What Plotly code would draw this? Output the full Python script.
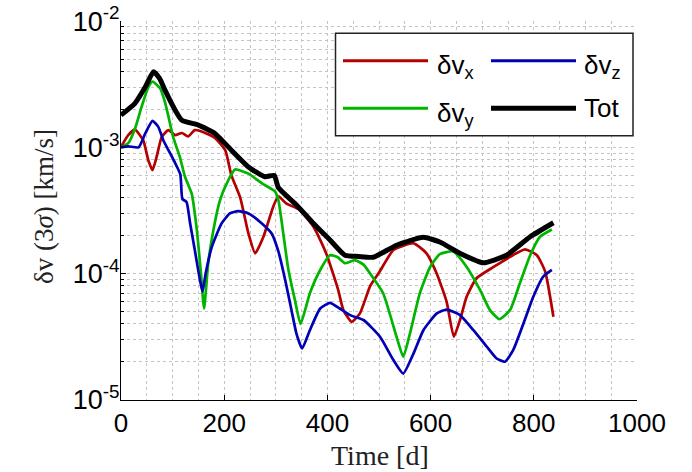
import plotly.graph_objects as go

# ---------------- data ----------------
t_x = [0, 14, 27, 43, 53, 61, 69, 79, 92, 105, 118, 130, 143, 160, 182, 202, 214, 231, 247, 260,
       276, 295, 305, 320, 347, 373, 386, 399, 411, 421, 431, 447, 463, 483, 502, 528, 567, 592,
       612, 631, 645, 657, 670, 689, 722, 754, 783, 806, 822, 838]
v_x = [1.01e-3, 1.25e-3, 1.38e-3, 1.14e-3, 7.9e-4, 6.6e-4, 8.4e-4, 1.21e-3, 1.37e-3, 1.25e-3,
       1.3e-3, 1.22e-3, 1.37e-3, 1.32e-3, 1.19e-3, 9.5e-4, 6.0e-4, 4.0e-4, 2.08e-4, 1.45e-4,
       1.96e-4, 3.39e-4, 4.1e-4, 3.6e-4, 3.19e-4, 2.35e-4, 1.85e-4, 1.40e-4, 1.0e-4, 7.4e-5,
       5.15e-5, 4.16e-5, 4.85e-5, 8.0e-5, 1.05e-4, 1.54e-4, 1.74e-4, 1.45e-4, 1.0e-4, 6.0e-5,
       3.17e-5, 4.3e-5, 6.6e-5, 9.2e-5, 1.13e-4, 1.36e-4, 1.56e-4, 1.40e-4, 1.04e-4, 4.56e-5]

t_y = [0, 14, 27, 40, 53, 61, 76, 85, 92, 101, 114, 124, 137, 147, 155, 161, 169, 179, 192, 208,
       221, 247, 273, 298, 305, 311, 324, 337, 348, 366, 386, 405, 420, 434, 453, 470, 483, 508,
       534, 547, 560, 579, 599, 618, 644, 670, 696, 715, 733, 754, 773, 793, 812, 835]
v_y = [1.0e-3, 1.08e-3, 1.4e-3, 2.1e-3, 3.0e-3, 3.31e-3, 2.93e-3, 2.3e-3, 1.75e-3, 1.21e-3,
       8.4e-4, 5.85e-4, 4.3e-4, 2.21e-4, 1.0e-4, 5.3e-5, 1.21e-4, 2.21e-4, 3.83e-4, 5.5e-4,
       6.68e-4, 6.2e-4, 5.19e-4, 4.5e-4, 3.83e-4, 2.65e-4, 1.1e-4, 6.2e-5, 4.0e-5, 7.0e-5,
       1.07e-4, 1.40e-4, 1.35e-4, 1.21e-4, 1.28e-4, 1.18e-4, 1.0e-4, 7.0e-5, 3.17e-5, 2.2e-5,
       3.36e-5, 6.98e-5, 1.13e-4, 1.43e-4, 1.5e-4, 1.13e-4, 7.4e-5, 5.15e-5, 4.37e-5, 5.15e-5,
       8.4e-5, 1.40e-4, 1.96e-4, 2.24e-4]

t_z = [0, 14, 34, 47, 61, 72, 82, 92, 105, 115, 119, 127, 134, 143, 153, 158, 164, 176, 195, 211,
       227, 247, 273, 292, 305, 318, 331, 340, 351, 366, 386, 405, 424, 444, 470, 502, 528, 547,
       567, 586, 612, 631, 657, 683, 709, 728, 744, 760, 780, 799, 818, 835]
v_z = [1.0e-3, 1.02e-3, 1.0e-3, 1.29e-3, 1.62e-3, 1.46e-3, 1.14e-3, 9.5e-4, 7.5e-4, 6.1e-4,
       3.9e-4, 3.7e-4, 2.5e-4, 1.54e-4, 8.9e-5, 7.2e-5, 1.0e-4, 1.63e-4, 2.5e-4, 3.0e-4,
       3.13e-4, 3.0e-4, 2.5e-4, 2.08e-4, 1.5e-4, 9.0e-5, 5.0e-5, 3.36e-5, 2.56e-5, 3.57e-5,
       5.3e-5, 5.88e-5, 5.3e-5, 4.7e-5, 4.3e-5, 3.17e-5, 2.07e-5, 1.62e-5, 2.34e-5, 3.57e-5,
       4.85e-5, 5.2e-5, 4.7e-5, 3.57e-5, 2.64e-5, 2.13e-5, 2.01e-5, 2.48e-5, 4.04e-5, 6.56e-5,
       9.46e-5, 1.07e-4]

t_tot = [0, 27, 47, 63, 75, 85, 105, 118, 150, 182, 214, 247, 279, 297, 305, 340, 373, 405, 434,
         460, 489, 534, 586, 618, 657, 702, 747, 793, 838]
v_tot = [1.80e-3, 2.23e-3, 3.0e-3, 3.97e-3, 3.5e-3, 2.85e-3, 1.97e-3, 1.64e-3, 1.50e-3, 1.29e-3,
         9.5e-4, 7.0e-4, 5.85e-4, 6.0e-4, 4.8e-4, 3.5e-4, 2.5e-4, 1.85e-4, 1.40e-4, 1.37e-4,
         1.35e-4, 1.68e-4, 1.94e-4, 1.78e-4, 1.45e-4, 1.22e-4, 1.40e-4, 1.96e-4, 2.53e-4]

labels = ["δv<sub>x</sub>", "δv<sub>y</sub>", "δv<sub>z</sub>", "Tot"]
colors = ["#B40000", "#00B400", "#0000B4", "#000000"]
widths = [2.7, 2.7, 2.7, 5]
x_ticks = [0, 200, 400, 600, 800, 1000]
y_ticks = [1e-5, 1e-4, 1e-3, 1e-2]
y_ticktext = ["10<sup>-5</sup>", "10<sup>-4</sup>", "10<sup>-3</sup>", "10<sup>-2</sup>"]
x_title = "Time [d]"
y_title = "δv (3<i>σ</i>) [km/s]"

# ---------------- figure ----------------
fig = go.Figure()
for t, v, name, c, w in zip([t_x, t_y, t_z, t_tot], [v_x, v_y, v_z, v_tot], labels, colors, widths):
    fig.add_trace(go.Scatter(x=t, y=v, mode="lines", name=name, line_shape="spline",
                             line=dict(color=c, width=w, smoothing=0.5), showlegend=False))

L, R, T, B = 121, 55, 21, 72
W, H = 692, 472
pw, ph = W - L - R, H - T - B

def px(x):
    return (x - L) / pw

def py(y):
    return (H - B - y) / ph

grid = dict(gridcolor="#c4c4c4", griddash="3px,3px", gridwidth=1)

fig.update_xaxes(range=[0, 1000], tickvals=x_ticks, showline=True, linecolor="black", linewidth=1,
                 ticks="inside", ticklen=5, tickcolor="black", zeroline=False, showgrid=True,
                 automargin=False,
                 minor=dict(dtick=50, showgrid=True, ticks="", **grid),
                 tickfont=dict(family="Liberation Sans", size=26, color="black"),
                 **grid)
fig.update_yaxes(type="log", range=[-5, -1.9995], tickvals=y_ticks, ticktext=y_ticktext,
                 showline=True, linecolor="black", linewidth=1, ticks="inside", ticklen=5,
                 tickcolor="black", zeroline=False, showgrid=True, automargin=False,
                 ticklabelstandoff=-5,
                 minor=dict(dtick="D1", showgrid=True, ticks="inside", ticklen=3, tickcolor="black", **grid),
                 tickfont=dict(family="Liberation Sans", size=27, color="black"),
                 **grid)

# legend drawn by hand (two columns, long line samples)
shapes = [dict(type="rect", xref="paper", yref="paper", x0=px(335.5), x1=px(633), y0=py(135.7),
               y1=py(33.3), line=dict(color="#222", width=1.5), fillcolor="white", layer="above")]
annots = []
leg_pos = [(343, 428, 60.7, 435), (343, 428, 108.3, 435), (491, 576, 60.7, 582), (491, 576, 108.3, 582)]
for (x0, x1, yy, xt), name, c, w in zip(leg_pos, labels, colors, widths):
    shapes.append(dict(type="line", xref="paper", yref="paper", x0=px(x0), x1=px(x1), y0=py(yy),
                       y1=py(yy), line=dict(color=c, width=3 if w < 4 else 5), layer="above"))
    annots.append(dict(xref="paper", yref="paper", x=px(xt), y=py(yy + (6 if "sub" in name else 0)),
                       xanchor="left", yanchor="middle", showarrow=False, text=name,
                       font=dict(family="Liberation Sans", size=26, color="black")))

# axis titles
annots.append(dict(xref="paper", yref="paper", x=px(380), y=py(455), xanchor="center", yanchor="middle",
                   showarrow=False, text=x_title,
                   font=dict(family="Liberation Serif", size=28, color="#222")))
annots.append(dict(xref="paper", yref="paper", x=px(44), y=py(207), xanchor="center", yanchor="middle",
                   showarrow=False, text=y_title, textangle=-90,
                   font=dict(family="Liberation Serif", size=27, color="#222")))

fig.update_layout(width=W, height=H, margin=dict(l=L, r=R, t=T, b=B),
                  paper_bgcolor="white", plot_bgcolor="white", shapes=shapes, annotations=annots)

fig.write_html("out.html", config={"displayModeBar": False},
               post_script="document.body.style.margin='0px';")
